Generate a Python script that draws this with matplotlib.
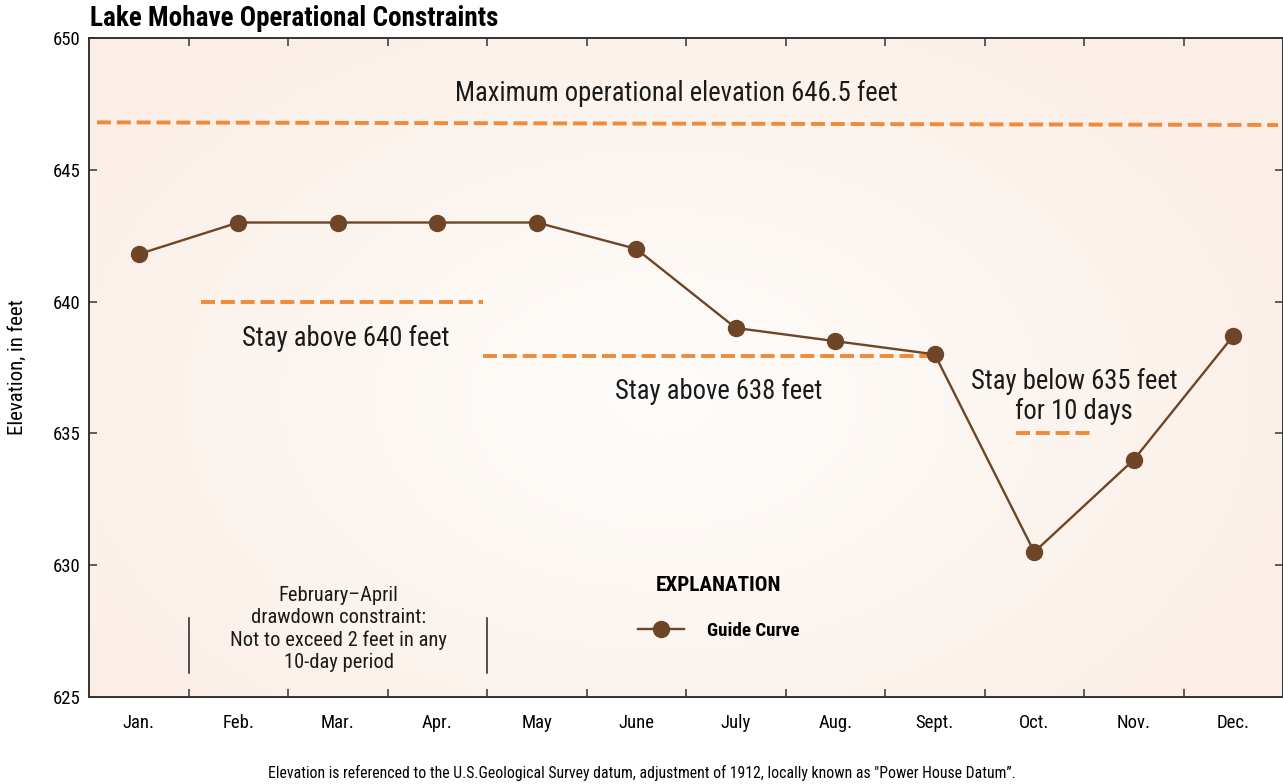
import numpy as np
import matplotlib.pyplot as plt
from matplotlib.colors import LinearSegmentedColormap

plt.rcParams['font.family'] = ['Roboto Condensed', 'DejaVu Sans']

months = ['Jan.', 'Feb.', 'Mar.', 'Apr.', 'May', 'June', 'July', 'Aug.',
          'Sept.', 'Oct.', 'Nov.', 'Dec.']
guide_curve = [641.8, 643, 643, 643, 643, 642, 639, 638.5, 638, 630.5, 634, 638.7]

# constraint lines: (x start, x end, elevation start, elevation end)
max_line = (0.08, 11.95, 646.8, 646.7)
above_640 = (1.13, 3.96, 640, 640)
above_638 = (3.96, 8.47, 637.95, 637.95)
below_635 = (9.32, 10.09, 635, 635)
bracket_x = [1.0, 4.0]
bracket_y = (625.9, 628.0)

brown = '#6f4528'
orange = '#ef8a3a'

fig = plt.figure(figsize=(12.83, 7.84), dpi=100)
ax = fig.add_axes([89 / 1283, 87 / 784, 1194 / 1283, 659 / 784])

# soft radial background
yy, xx = np.mgrid[0:1:300j, 0:1:300j]
r = np.sqrt(((xx - 0.48) * 1.2) ** 2 + (yy - 0.45) ** 2)
cmap = LinearSegmentedColormap.from_list('bg', ['#fefcfa', '#fcf5ef', '#fbeee7'])
ax.imshow(r, cmap=cmap, extent=[0, 1, 0, 1], transform=ax.transAxes,
          aspect='auto', zorder=0, origin='lower', vmin=0.05, vmax=0.72)

x = np.arange(len(months)) + 0.5
for seg in (max_line, above_640, above_638, below_635):
    ax.plot(seg[:2], seg[2:], color=orange, lw=2.8, ls=(0, (3.6, 1.5)), zorder=2)

ax.plot(x, guide_curve, color=brown, lw=1.7, marker='o', markersize=11.5,
        markerfacecolor=brown, markeredgecolor=brown, zorder=3, label='Guide Curve')

for bx in bracket_x:
    ax.plot([bx, bx], bracket_y, color='#222222', lw=1.1, zorder=2)

tk = dict(fontsize=19.2, color='#1a1a1a', ha='center', va='center')
ax.text(5.9, 647.9, 'Maximum operational elevation 646.5 feet', **tk)
ax.text(2.58, 638.6, 'Stay above 640 feet', **tk)
ax.text(6.33, 636.6, 'Stay above 638 feet', **tk)
ax.text(9.9, 636.4, 'Stay below 635 feet\nfor 10 days', linespacing=1.16, **tk)
ax.text(2.51, 627.58, 'February\u2013April\ndrawdown constraint:\nNot to exceed 2 feet in any\n10-day period',
        fontsize=14.8, color='#1a1a1a', ha='center', va='center', linespacing=1.22)

leg = ax.legend(loc='center', bbox_to_anchor=(6.33, 628.38), bbox_transform=ax.transData,
                frameon=False, title='EXPLANATION', handlelength=2.4,
                prop={'weight': 'bold', 'size': 13.7}, title_fontproperties={'weight': 'bold', 'size': 15.2},
                borderpad=0, labelspacing=0, handletextpad=1.2)
leg._legend_box.sep = 19

ax.set_xlim(0, 12)
ax.set_ylim(625, 650)
ax.set_xticks(np.arange(1, 12))
ax.set_xticklabels([])
ax.set_xticks(x, minor=True)
ax.set_xticklabels(months, minor=True, fontsize=13.5)
ax.tick_params(axis='x', which='major', direction='in', length=6, top=True, width=1.1, color='#333333')
ax.tick_params(axis='x', which='minor', length=0, pad=12)
ax.set_yticks([625, 630, 635, 640, 645, 650])
ax.tick_params(axis='y', direction='in', length=6, right=True, labelsize=13.5, width=1.1,
               color='#333333', pad=6)
for s in ax.spines.values():
    s.set_color('#333333')
    s.set_linewidth(1.4)

ax.set_ylabel('Elevation, in feet', fontsize=15)
ax.yaxis.set_label_coords(-0.052, 0.5)
fig.text(90 / 1283, 1 - 18 / 784, 'Lake Mohave Operational Constraints', fontsize=19.5,
         fontweight='bold', ha='left', va='center')
fig.text(0.5, 1 - 773 / 784,
         'Elevation is referenced to the U.S.Geological Survey datum, adjustment of 1912, '
         'locally known as "Power House Datum\u201d.', fontsize=11.3, ha='center', va='center')

plt.savefig('out.png', dpi=100)
